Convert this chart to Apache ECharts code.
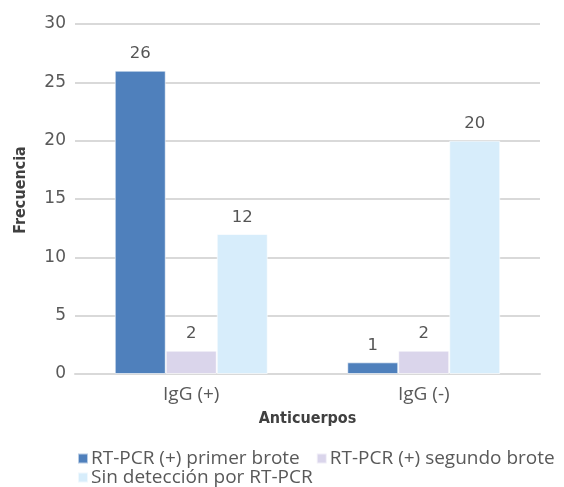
<!DOCTYPE html>
<html><head><meta charset="utf-8">
<script src="https://cdn.jsdelivr.net/npm/echarts@6/dist/echarts.min.js"></script>
<style>html,body{margin:0;padding:0;background:#fff}#c{width:564px;height:487px}</style>
</head><body><div id="c"></div>
<script>
var categories = ['IgG (+)', 'IgG (-)'];
var seriesNames = ['RT-PCR (+) primer brote', 'RT-PCR (+) segundo brote', 'Sin detección por RT-PCR'];
var primerBrote = [26, 1];
var segundoBrote = [2, 2];
var sinDeteccion = [12, 20];
var yTicks = {min: 0, max: 30, interval: 5};

var colors = ['#4f80bc', '#dad5eb', '#d7edfb'];
var font = '"Open Sans", Lato, sans-serif';
var numFont = '"DejaVu Sans", sans-serif';
var boldFont = '"Liberation Sans Narrow", "DejaVu Sans Condensed", sans-serif';
var chart = echarts.init(document.getElementById('c'));
function mk(name, data, i) {
  return {
    name: name, type: 'bar', data: data, barWidth: 51, barGap: '0%',
    itemStyle: {color: colors[i], borderColor: 'rgba(255,255,255,0.6)', borderWidth: 1},
    label: {show: true, position: 'top', distance: 8, color: '#555555', fontSize: 16.5, fontFamily: numFont}
  };
}
var legendText = {color: '#595959', fontSize: 19, fontFamily: font, padding: [0,0,0,-2]};
chart.setOption({
  animation: false,
  grid: {left: 75, right: 24, top: 24, bottom: 113},
  legend: [{
    data: seriesNames.slice(0, 2), left: 72, top: 444, itemWidth: 10, itemHeight: 10,
    itemGap: 16, icon: 'rect', textStyle: legendText
  }, {
    data: seriesNames.slice(2), left: 72, top: 463, itemWidth: 10, itemHeight: 10,
    icon: 'rect', textStyle: legendText
  }],
  xAxis: {
    type: 'category', data: categories,
    name: 'Anticuerpos', nameLocation: 'middle', nameGap: 37,
    nameTextStyle: {color: '#404040', fontSize: 16, fontWeight: 'bold', fontFamily: boldFont},
    axisLine: {lineStyle: {color: '#d9d9d9', width: 2}},
    axisTick: {show: false},
    axisLabel: {color: '#595959', fontSize: 19, fontFamily: font, margin: 11}
  },
  yAxis: {
    type: 'value', min: yTicks.min, max: yTicks.max, interval: yTicks.interval,
    name: 'Frecuencia', nameLocation: 'middle', nameGap: 46, nameRotate: 90,
    nameTextStyle: {color: '#404040', fontSize: 16, fontWeight: 'bold', fontFamily: boldFont, padding: [0, 0, 0, 18]},
    axisLine: {show: false}, axisTick: {show: false},
    splitLine: {lineStyle: {color: '#d9d9d9', width: 2}},
    axisLabel: {color: '#595959', fontSize: 17, fontFamily: numFont, margin: 9}
  },
  series: [mk(seriesNames[0], primerBrote, 0), mk(seriesNames[1], segundoBrote, 1), mk(seriesNames[2], sinDeteccion, 2)]
});
</script></body></html>
